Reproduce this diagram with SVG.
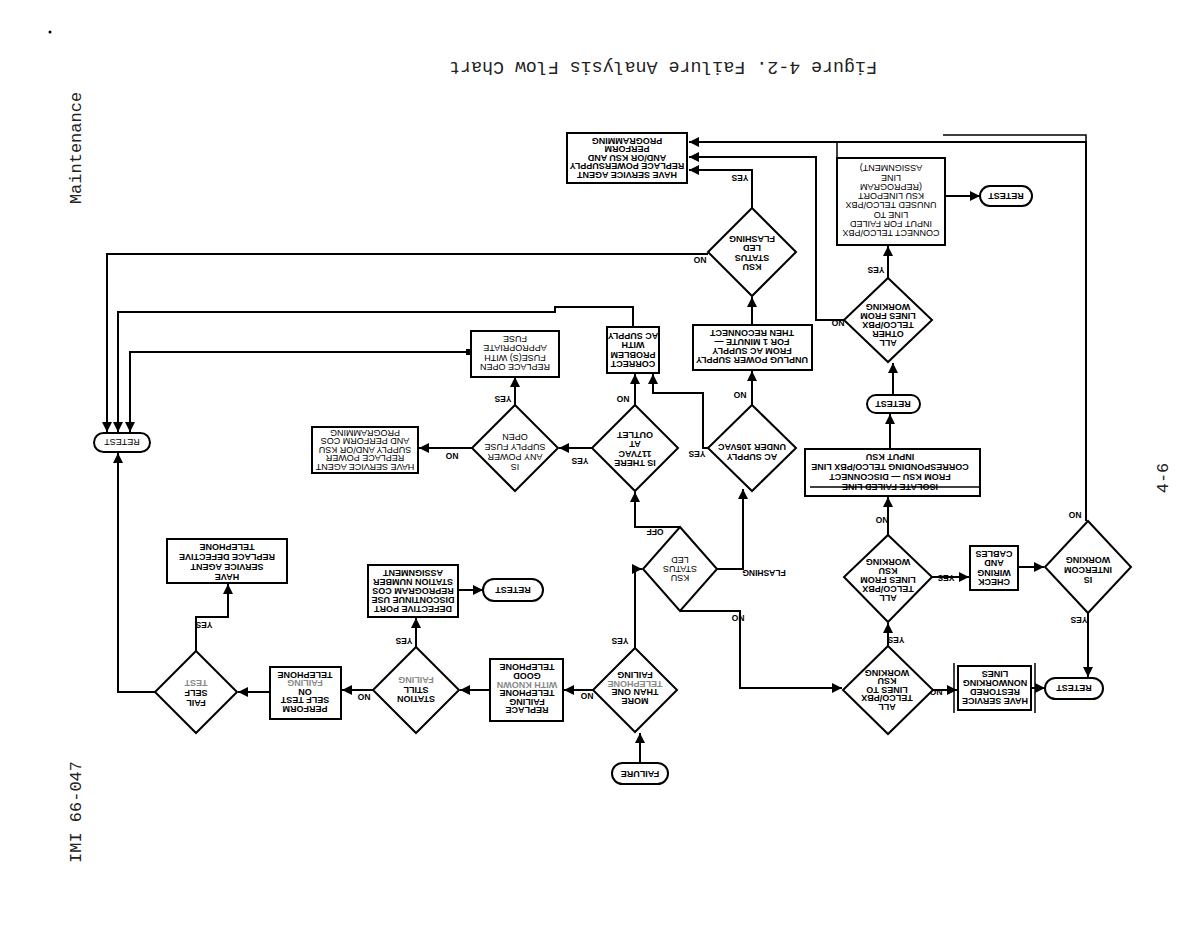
<svg xmlns="http://www.w3.org/2000/svg" width="1200" height="935" viewBox="0 0 1200 935">
<style>
.n{fill:#fff;stroke:#000;stroke-width:2}
.c{fill:none;stroke:#000;stroke-width:2;marker-end:url(#ah)}
.w{fill:none;stroke:#000;stroke-width:1.5}
.t{font-family:"Liberation Sans",Arial,sans-serif;font-weight:bold;font-size:9px;text-anchor:middle;fill:#000}
.r{font-weight:normal}
.f{fill:#888}
.l{font-family:"Liberation Sans",Arial,sans-serif;font-weight:bold;font-size:8.5px;text-anchor:middle;fill:#000}
.m{font-family:"Liberation Mono","Courier New",monospace;font-size:17px;text-anchor:middle;fill:#222}
</style>
<defs>
<marker id="ah" viewBox="0 0 10 10" refX="10" refY="5" markerWidth="13" markerHeight="10" orient="auto" markerUnits="userSpaceOnUse"><path d="M0,0 L10,5 L0,10 z" fill="#000"/></marker>
</defs>
<rect width="1200" height="935" fill="#fff"/>
<circle cx="50" cy="32" r="1.5" fill="#000"/>
<text class="m" transform="rotate(180 663 68)" x="663" y="74" style="font-size:18.3px">Figure 4-2.  Failure Analysis Flow Chart</text>
<text class="m" transform="rotate(-90 75 148)" x="75" y="154">Maintenance</text>
<text class="m" transform="rotate(-90 75 812)" x="75" y="818">IMI 66-047</text>
<text class="m" transform="rotate(-90 1162 478)" x="1162" y="484">4-6</text>

<g id="connectors">
<path class="c" d="M752,208 V170 H689"/>
<path class="c" d="M708,254 H107 V432"/>
<path class="c" d="M1086,521 V142 H689"/>
<path class="w" d="M943,135 H1086 V142"/>
<path class="c" d="M845,320 H816 V157 H689"/>
<path class="w" d="M837,142 V158"/>
<path class="c" d="M888,278 V246"/>
<path class="c" d="M945,196 H980"/>
<path class="c" d="M752,325 V297"/>
<path class="c" d="M752,405 V371"/>
<path class="c" d="M708,448 H703 V393 H653 V374"/>
<path class="c" d="M635,405 V374"/>
<path class="c" d="M633,327 V307 H555 V312 H118 V432"/>
<path class="c" d="M470,352 H130 V432"/>
<path class="c" d="M515,405 V377"/>
<path class="c" d="M592,448 H559"/>
<path class="c" d="M472,448 H419"/>
<path class="c" d="M680,527 H635 V492"/>
<path class="c" d="M717,569 H743 V489"/>
<path class="c" d="M680,611 H740 V688 H842"/>
<path class="c" d="M635,648 V569 H642"/>
<path class="c" d="M640,763 V733"/>
<path class="c" d="M593,690 H564"/>
<path class="c" d="M490,690 H460"/>
<path class="c" d="M416,647 V618"/>
<path class="c" d="M458,590 H483"/>
<path class="c" d="M373,690 H342"/>
<path class="c" d="M270,692 H238"/>
<path class="c" d="M196,651 V617 H228 V584"/>
<path class="c" d="M155,692 H118 V453"/>
<path class="c" d="M933,690 H957"/>
<path class="c" d="M1031,688 H1045"/>
<path class="c" d="M888,646 V623"/>
<path class="c" d="M932,577 H969"/>
<path class="c" d="M1018,567 H1044"/>
<path class="c" d="M1088,613 V677"/>
<path class="c" d="M888,535 V497"/>
<path class="c" d="M890,449 V414"/>
<path class="c" d="M893,395 V363"/>
<g>
<text class="l" transform="rotate(180 740 178)" x="740" y="181">YES</text>
<text class="l" transform="rotate(180 700 260)" x="700" y="263">NO</text>
<text class="l" transform="rotate(180 1075 515)" x="1075" y="518">NO</text>
<text class="l" transform="rotate(180 838 323)" x="838" y="326">NO</text>
<text class="l" transform="rotate(180 876 270)" x="876" y="273">YES</text>
<text class="l" transform="rotate(180 740 395)" x="740" y="398">NO</text>
<text class="l" transform="rotate(180 697 454)" x="697" y="457">YES</text>
<text class="l" transform="rotate(180 623 399)" x="623" y="402">NO</text>
<text class="l" transform="rotate(180 503 399)" x="503" y="402">YES</text>
<text class="l" transform="rotate(180 580 461)" x="580" y="464">YES</text>
<text class="l" transform="rotate(180 452 456)" x="452" y="459">NO</text>
<text class="l" transform="rotate(180 655 532)" x="655" y="535">OFF</text>
<text class="l" transform="rotate(180 764 573)" x="764" y="576">FLASHING</text>
<text class="l" transform="rotate(180 738 618)" x="738" y="621">NO</text>
<text class="l" transform="rotate(180 620 641)" x="620" y="644">YES</text>
<text class="l" transform="rotate(180 587 696)" x="587" y="699">NO</text>
<text class="l" transform="rotate(180 404 641)" x="404" y="644">YES</text>
<text class="l" transform="rotate(180 364 697)" x="364" y="700">NO</text>
<text class="l" transform="rotate(180 204 625)" x="204" y="628">YES</text>
<text class="l" transform="rotate(180 936 692)" x="936" y="695">NO</text>
<text class="l" transform="rotate(180 896 640)" x="896" y="643">YES</text>
<text class="l" transform="rotate(180 946 578)" x="946" y="581">YES</text>
<text class="l" transform="rotate(180 882 520)" x="882" y="523">NO</text>
<text class="l" transform="rotate(180 1079 620)" x="1079" y="623">YES</text>
</g>
</g>

<g id="boxA"><rect class="n" x="567" y="133" width="120" height="50"/>
<text class="t" transform="rotate(180 627 158)"><tspan x="627" y="144.2">HAVE SERVICE AGENT</tspan><tspan x="627" y="152.7">REPLACE POWERSUPPLY</tspan><tspan x="627" y="161.2">AND/OR KSU AND</tspan><tspan x="627" y="169.7">PERFORM</tspan><tspan x="627" y="178.2">PROGRAMMING</tspan></text></g>

<g id="ksu1"><polygon class="n" points="752,208 796,252 752,296 708,252"/>
<text class="t" transform="rotate(180 752 253)"><tspan x="752" y="241.9">KSU</tspan><tspan x="752" y="251.4">STATUS</tspan><tspan x="752" y="260.9">LED</tspan><tspan x="752" y="270.4">FLASHING</tspan></text></g>

<g id="unplug"><rect class="n" x="693" y="325" width="119" height="45"/>
<text class="t" transform="rotate(180 752 347)"><tspan x="752" y="336.7">UNPLUG POWER SUPPLY</tspan><tspan x="752" y="345.7">FROM AC SUPPLY</tspan><tspan x="752" y="354.7">FOR 1 MINUTE —</tspan><tspan x="752" y="363.7">THEN RECONNECT</tspan></text></g>

<g id="correct"><rect class="n" x="607" y="327" width="52" height="46"/>
<text class="t" transform="rotate(180 633 350)"><tspan x="633" y="338.9">CORRECT</tspan><tspan x="633" y="348.4">PROBLEM</tspan><tspan x="633" y="357.9">WITH</tspan><tspan x="633" y="367.4">AC SUPPLY</tspan></text></g>

<g id="fuse"><rect class="n" x="471" y="331" width="88" height="46"/><rect x="466" y="349" width="6" height="6" fill="#000"/>
<text class="t r" transform="rotate(180 515 353)"><tspan x="515" y="341.9">REPLACE OPEN</tspan><tspan x="515" y="351.4">FUSE(S)  WITH</tspan><tspan x="515" y="360.9">APPROPRIATE</tspan><tspan x="515" y="370.4">FUSE</tspan></text></g>

<g id="isthere"><polygon class="n" points="635,405 678,448 635,491 592,448"/>
<text class="t" transform="rotate(180 635 449)"><tspan x="635" y="437.9">IS THERE</tspan><tspan x="635" y="447.4">117VAC</tspan><tspan x="635" y="456.9">AT</tspan><tspan x="635" y="466.4">OUTLET</tspan></text></g>

<g id="isany"><polygon class="n" points="515,405 558,448 515,491 472,448"/>
<text class="t r" transform="rotate(180 515 452)"><tspan x="515" y="440.2">IS</tspan><tspan x="515" y="450.2">ANY POWER</tspan><tspan x="515" y="460.2">SUPPLY FUSE</tspan><tspan x="515" y="470.2">OPEN</tspan></text></g>

<g id="hsa2"><rect class="n" x="312" y="427" width="106" height="46"/>
<text class="t r" transform="rotate(180 365 450)"><tspan x="365" y="436.2">HAVE SERVICE AGENT</tspan><tspan x="365" y="444.7">REPLACE POWER</tspan><tspan x="365" y="453.2">SUPPLY AND/OR KSU</tspan><tspan x="365" y="461.7">AND PERFORM COS</tspan><tspan x="365" y="470.2">PROGRAMMING</tspan></text></g>

<g id="acsupply"><polygon class="n" points="752,405 796,448 752,491 708,448"/>
<text class="t" transform="rotate(180 752 452)"><tspan x="752" y="450.2">AC SUPPLY</tspan><tspan x="752" y="460.2">UNDER 105VAC</tspan></text></g>

<g id="ksu2"><polygon class="n" points="680,527 717,569 680,611 643,569"/>
<text class="t r" transform="rotate(180 680 569)"><tspan x="680" y="563.2">KSU</tspan><tspan x="680" y="572.2">STATUS</tspan><tspan x="680" y="581.2">LED</tspan></text></g>

<g id="more"><polygon class="n" points="635,648 677,690 635,732 593,690"/>
<text class="t" transform="rotate(180 635 688)"><tspan x="635" y="678.4">MORE</tspan><tspan x="635" y="686.9">THAN ONE</tspan><tspan class="f" x="635" y="695.4">TELEPHONE</tspan><tspan x="635" y="703.9">FAILING</tspan></text></g>

<g id="failure"><rect class="n" x="612" y="763" width="56" height="21" rx="10.5"/>
<text class="t" transform="rotate(180 640 774)"><tspan x="640" y="777.2">FAILURE</tspan></text></g>

<g id="replace"><rect class="n" x="490" y="659" width="73" height="62"/>
<text class="t" transform="rotate(180 527 689)"><tspan x="527" y="670.7">REPLACE</tspan><tspan x="527" y="679.3">FAILING</tspan><tspan x="527" y="687.9">TELEPHONE</tspan><tspan class="f" x="527" y="696.5">WITH KNOWN</tspan><tspan x="527" y="705.1">GOOD</tspan><tspan x="527" y="713.7">TELEPHONE</tspan></text></g>

<g id="station"><polygon class="n" points="416,647 459,690 416,733 373,690"/>
<text class="t" transform="rotate(180 416 690)"><tspan x="416" y="683.7">STATION</tspan><tspan x="416" y="693.2">STILL</tspan><tspan class="f" x="416" y="702.7">FAILING</tspan></text></g>

<g id="perform"><rect class="n" x="270" y="667" width="71" height="52"/>
<text class="t" transform="rotate(180 305 692)"><tspan x="305" y="678.2">PERFORM</tspan><tspan x="305" y="686.7">SELF TEST</tspan><tspan x="305" y="695.2">ON</tspan><tspan class="f" x="305" y="703.7">FAILING</tspan><tspan x="305" y="712.2">TELEPHONE</tspan></text></g>

<g id="fail"><polygon class="n" points="196,651 237,692 196,733 155,692"/>
<text class="t" transform="rotate(180 196 693)"><tspan x="196" y="686.2">FAIL</tspan><tspan x="196" y="696.2">SELF</tspan><tspan class="f" x="196" y="706.2">TEST</tspan></text></g>

<g id="hsa3"><rect class="n" x="167" y="539" width="120" height="44"/>
<text class="t" transform="rotate(180 227 562)"><tspan x="227" y="550.2">HAVE</tspan><tspan x="227" y="560.2">SERVICE AGENT</tspan><tspan x="227" y="570.2">REPLACE DEFECTIVE</tspan><tspan x="227" y="580.2">TELEPHONE</tspan></text></g>

<g id="defective"><rect class="n" x="368" y="565" width="90" height="52"/>
<text class="t" transform="rotate(180 413 591)"><tspan x="413" y="576.2">DEFECTIVE PORT</tspan><tspan x="413" y="585.2">DISCONTINUE USE</tspan><tspan x="413" y="594.2">REPROGRAM COS</tspan><tspan x="413" y="603.2">STATION NUMBER</tspan><tspan x="413" y="612.2">ASSIGNMENT</tspan></text></g>

<g id="retest1"><rect class="n" x="483" y="579" width="60" height="22" rx="11"/>
<text class="t" transform="rotate(180 513 590)"><tspan x="513" y="593.2">RETEST</tspan></text></g>

<g id="retest2"><rect class="n" x="94" y="433" width="56" height="19" rx="9.5"/>
<text class="t r" transform="rotate(180 122 442)"><tspan x="122" y="445.2">RETEST</tspan></text></g>

<g id="alltoksu"><polygon class="n" points="888,646 933,690 888,734 843,690"/>
<text class="t" transform="rotate(180 887 690)"><tspan x="887" y="676.2">ALL</tspan><tspan x="887" y="684.7">TELCO/PBX</tspan><tspan x="887" y="693.2">LINES TO</tspan><tspan x="887" y="701.7">KSU</tspan><tspan x="887" y="710.2">WORKING</tspan></text></g>

<g id="restored"><rect class="n" x="958" y="666" width="73" height="44"/><path class="w" d="M954,663 V713 M1035,663 V713"/>
<text class="t" transform="rotate(180 995 688)"><tspan x="995" y="677.7">HAVE SERVICE</tspan><tspan x="995" y="686.7">RESTORED</tspan><tspan x="995" y="695.7">NONWORKING</tspan><tspan x="995" y="704.7">LINES</tspan></text></g>

<g id="retest3"><rect class="n" x="1045" y="678" width="58" height="21" rx="10.5"/>
<text class="t" transform="rotate(180 1074 688)"><tspan x="1074" y="691.2">RETEST</tspan></text></g>

<g id="allfromksu"><polygon class="n" points="888,535 932,577 888,622 844,577"/>
<text class="t" transform="rotate(180 888 580)"><tspan x="888" y="565.2">ALL</tspan><tspan x="888" y="574.2">TELCO/PBX</tspan><tspan x="888" y="583.2">LINES FROM</tspan><tspan x="888" y="592.2">KSU</tspan><tspan x="888" y="601.2">WORKING</tspan></text></g>

<g id="check"><rect class="n" x="970" y="546" width="48" height="44"/>
<text class="t" transform="rotate(180 994 568)"><tspan x="994" y="556.9">CHECK</tspan><tspan x="994" y="566.4">WIRING</tspan><tspan x="994" y="575.9">AND</tspan><tspan x="994" y="585.4">CABLES</tspan></text></g>

<g id="intercom"><polygon class="n" points="1088,521 1131,567 1088,613 1045,567"/>
<text class="t" transform="rotate(180 1088 570)"><tspan x="1088" y="563.2">IS</tspan><tspan x="1088" y="573.2">INTERCOM</tspan><tspan x="1088" y="583.2">WORKING</tspan></text></g>

<g id="isolate"><rect class="n" x="805" y="449" width="175" height="47"/><path class="w" d="M810,487 H980"/>
<text class="t" transform="rotate(180 890 472)"><tspan x="890" y="460.2">ISOLATE FAILED LINE</tspan><tspan x="890" y="470.2">FROM KSU — DISCONNECT</tspan><tspan x="890" y="480.2">CORRESPONDING TELCO/PBX LINE</tspan><tspan x="890" y="490.2">INPUT          KSU</tspan></text></g>

<g id="retest4"><rect class="n" x="867" y="395" width="53" height="18" rx="9"/>
<text class="t" transform="rotate(180 893 404)"><tspan x="893" y="407.2">RETEST</tspan></text></g>

<g id="allother"><polygon class="n" points="888,278 932,320 888,362 844,320"/>
<text class="t" transform="rotate(180 888 325)"><tspan x="888" y="310.2">ALL</tspan><tspan x="888" y="319.2">OTHER</tspan><tspan x="888" y="328.2">TELCO/PBX</tspan><tspan x="888" y="337.2">LINES  FROM</tspan><tspan x="888" y="346.2">WORKING</tspan></text></g>

<g id="connect"><rect class="n" x="837" y="158" width="108" height="87"/>
<text class="t r" transform="rotate(180 891 201)"><tspan x="891" y="171.7">CONNECT TELCO/PBX</tspan><tspan x="891" y="181">INPUT FOR FAILED</tspan><tspan x="891" y="190.3">LINE TO</tspan><tspan x="891" y="199.6">UNUSED TELCO/PBX</tspan><tspan x="891" y="208.9">KSU      LINEPORT</tspan><tspan x="891" y="218.2">(REPROGRAM</tspan><tspan x="891" y="227.5">LINE</tspan><tspan x="891" y="236.8">ASSIGNMENT)</tspan></text></g>

<g id="retest5"><rect class="n" x="980" y="186" width="52" height="20" rx="10"/>
<text class="t" transform="rotate(180 1006 196)"><tspan x="1006" y="199.2">RETEST</tspan></text></g>
</svg>
